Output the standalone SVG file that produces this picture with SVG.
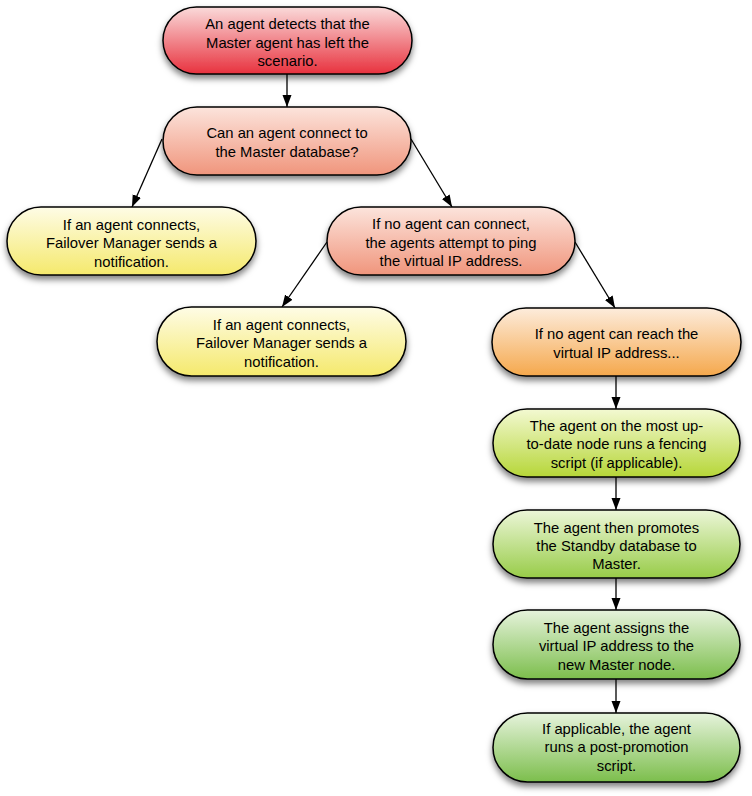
<svg xmlns="http://www.w3.org/2000/svg" width="752" height="796" viewBox="0 0 752 796">
<defs>
<linearGradient id="gRed" x1="0" y1="0" x2="0" y2="1"><stop offset="0" stop-color="#fadada"/><stop offset="1" stop-color="#e8323e"/></linearGradient>
<linearGradient id="gSalmon" x1="0" y1="0" x2="0" y2="1"><stop offset="0" stop-color="#fce4dc"/><stop offset="1" stop-color="#f0957c"/></linearGradient>
<linearGradient id="gYellow" x1="0" y1="0" x2="0" y2="1"><stop offset="0" stop-color="#fefce6"/><stop offset="1" stop-color="#f5e96c"/></linearGradient>
<linearGradient id="gOrange" x1="0" y1="0" x2="0" y2="1"><stop offset="0" stop-color="#fdecdc"/><stop offset="1" stop-color="#f5a84c"/></linearGradient>
<linearGradient id="gLime" x1="0" y1="0" x2="0" y2="1"><stop offset="0" stop-color="#f3f9d2"/><stop offset="1" stop-color="#b6d638"/></linearGradient>
<linearGradient id="gGreen1" x1="0" y1="0" x2="0" y2="1"><stop offset="0" stop-color="#ecf6d8"/><stop offset="1" stop-color="#98cc48"/></linearGradient>
<linearGradient id="gGreen2" x1="0" y1="0" x2="0" y2="1"><stop offset="0" stop-color="#e6f3dc"/><stop offset="1" stop-color="#7cbe4c"/></linearGradient>
<filter id="sh" x="-10%" y="-20%" width="120%" height="160%"><feDropShadow dx="0" dy="4" stdDeviation="3" flood-color="#000" flood-opacity="0.5"/></filter>
<marker id="ah" markerWidth="12" markerHeight="12" viewBox="0 0 12 12" refX="12" refY="6" orient="auto" markerUnits="userSpaceOnUse"><path d="M0,1.5 L12,6 L0,10.5 Z" fill="#000"/></marker>
</defs>
<style>
.n{stroke:#000;stroke-width:1.5;filter:url(#sh)}
.t{font-family:"Liberation Sans",Arial,sans-serif;font-size:14.8px;fill:#000;text-anchor:middle}
.c{stroke:#000;stroke-width:1.3;fill:none;marker-end:url(#ah)}
</style>
<g id="connectors">
<line class="c" x1="287" y1="74" x2="287" y2="107"/>
<line class="c" x1="162" y1="139" x2="132" y2="207"/>
<line class="c" x1="411" y1="139" x2="452" y2="207"/>
<line class="c" x1="327" y1="242" x2="282" y2="307"/>
<line class="c" x1="575" y1="242" x2="615" y2="308"/>
<line class="c" x1="616" y1="376" x2="616" y2="409"/>
<line class="c" x1="616" y1="477" x2="616" y2="510"/>
<line class="c" x1="616" y1="578" x2="616" y2="610"/>
<line class="c" x1="616" y1="679" x2="616" y2="713"/>
</g>
<g id="n1"><rect class="n" x="163" y="7" width="249" height="67" rx="33.5" fill="url(#gRed)"/>
<text class="t" x="287.5" y="29">An agent detects that the</text><text class="t" x="287.5" y="48">Master agent has left the</text><text class="t" x="287.5" y="66">scenario.</text></g>
<g id="n2"><rect class="n" x="163" y="107" width="248" height="68" rx="34" fill="url(#gSalmon)"/>
<text class="t" x="287" y="138">Can an agent connect to</text><text class="t" x="287" y="157">the Master database?</text></g>
<g id="n3"><rect class="n" x="7" y="207" width="249" height="68" rx="34" fill="url(#gYellow)"/>
<text class="t" x="131.5" y="230">If an agent connects,</text><text class="t" x="131.5" y="248">Failover Manager sends a</text><text class="t" x="131.5" y="267">notification.</text></g>
<g id="n4"><rect class="n" x="327" y="207" width="248" height="68" rx="34" fill="url(#gSalmon)"/>
<text class="t" x="451" y="229">If no agent can connect,</text><text class="t" x="451" y="248">the agents attempt to ping</text><text class="t" x="451" y="266">the virtual IP address.</text></g>
<g id="n5"><rect class="n" x="157" y="307" width="249" height="69" rx="34.5" fill="url(#gYellow)"/>
<text class="t" x="281.5" y="330">If an agent connects,</text><text class="t" x="281.5" y="348">Failover Manager sends a</text><text class="t" x="281.5" y="367">notification.</text></g>
<g id="n6"><rect class="n" x="492" y="308" width="249" height="68" rx="34" fill="url(#gOrange)"/>
<text class="t" x="616.5" y="339">If no agent can reach the</text><text class="t" x="616.5" y="358">virtual IP address...</text></g>
<g id="n7"><rect class="n" x="493" y="409" width="247" height="68" rx="34" fill="url(#gLime)"/>
<text class="t" x="616.5" y="431">The agent on the most up-</text><text class="t" x="616.5" y="449">to-date node runs a fencing</text><text class="t" x="616.5" y="468">script (if applicable).</text></g>
<g id="n8"><rect class="n" x="493" y="510" width="247" height="68" rx="34" fill="url(#gGreen1)"/>
<text class="t" x="616.5" y="533">The agent then promotes</text><text class="t" x="616.5" y="551">the Standby database to</text><text class="t" x="616.5" y="569">Master.</text></g>
<g id="n9"><rect class="n" x="493" y="610" width="247" height="69" rx="34.5" fill="url(#gGreen2)"/>
<text class="t" x="616.5" y="633">The agent assigns the</text><text class="t" x="616.5" y="651">virtual IP address to the</text><text class="t" x="616.5" y="670">new Master node.</text></g>
<g id="n10"><rect class="n" x="493" y="713" width="247" height="69" rx="34.5" fill="url(#gGreen2)"/>
<text class="t" x="616.5" y="734">If applicable, the agent</text><text class="t" x="616.5" y="752">runs a post-promotion</text><text class="t" x="616.5" y="771">script.</text></g>
</svg>
